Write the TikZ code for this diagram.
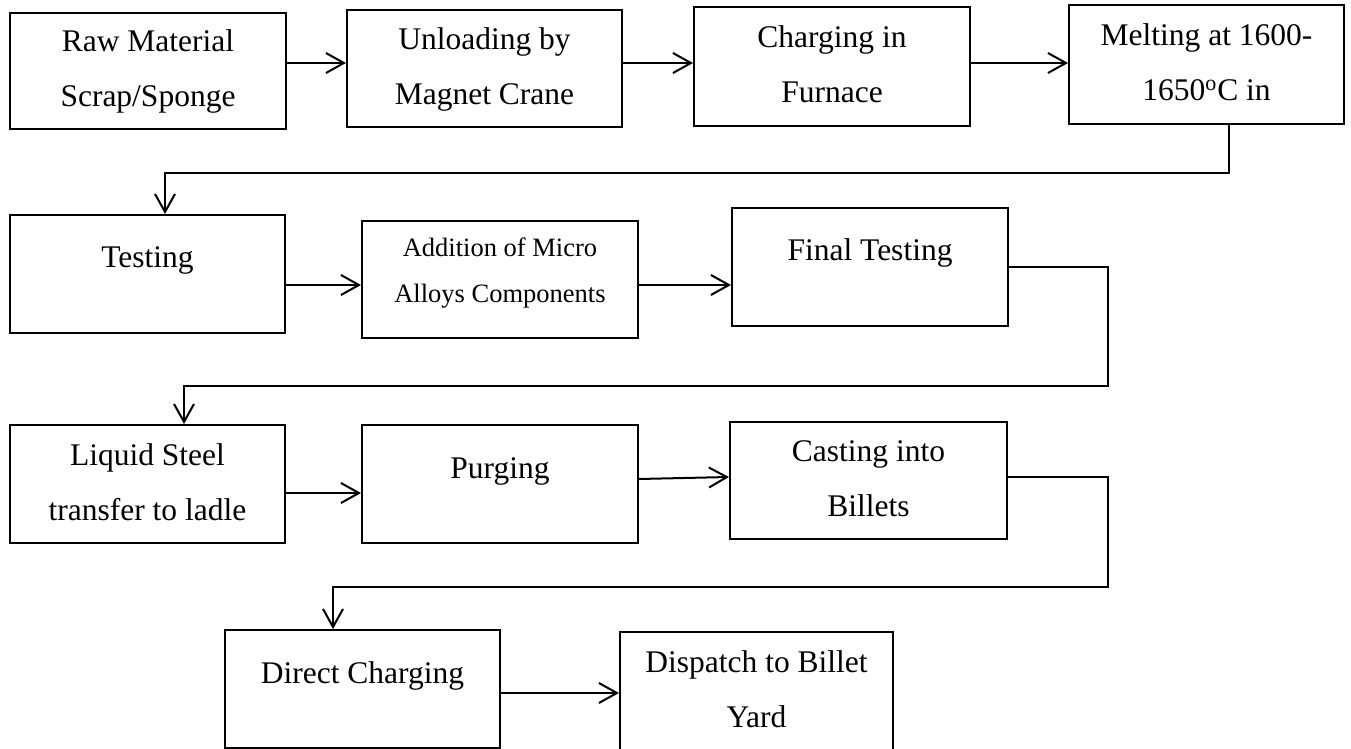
\documentclass[tikz,border=0pt]{standalone}
\usepackage{fontspec}
\setmainfont{Liberation Serif}
\usetikzlibrary{arrows.meta}
% invisible rules that fix where the two text lines sit inside a box
\newcommand\hiline{\rule{0pt}{16pt}}
\newcommand\loline{\rule[-7.5pt]{0pt}{7.5pt}}
\newcommand\hismall{\rule{0pt}{12pt}}
\newcommand\losmall{\rule[-12pt]{0pt}{12pt}}
\begin{document}
\begin{tikzpicture}[x=0.5pt, y=-0.5pt,
  box/.style={draw, line width=1pt, inner sep=0pt, align=center,
    font=\fontsize{15.75}{27.5}\selectfont},
  small/.style={font=\fontsize{13.25}{22.7}\selectfont},
  one/.style={text height=12pt, text depth=18pt},
  wh/.style 2 args={minimum width=#1*0.5pt, minimum height=#2*0.5pt},
  arr/.style={line width=1pt, line join=miter,
    -{Straight Barb[length=9pt, width=10pt]}}]
\useasboundingbox (0,0) rectangle (1351,749);

% process steps
\node[box, wh={276}{116}] (raw)    at (148,71)     {\hiline Raw Material\\ Scrap/Sponge\loline};
\node[box, wh={275}{117}] (unload) at (484.5,68.5) {\hiline Unloading by\\ Magnet Crane\loline};
\node[box, wh={276}{119}] (charge) at (832,66.5)   {\hiline Charging in\\ Furnace\loline};
\node[box, wh={275}{119}] (melt)   at (1206.5,64.5){\hiline Melting at 1600-\\ 1650\textsuperscript{o}C in\loline};

\node[box, one, wh={275}{118}] (test)  at (147.5,274) {Testing};
\node[box, small, wh={276}{117}] (alloy) at (500,279.5) {\hismall Addition of Micro\\ Alloys Components\losmall};
\node[box, one, wh={276}{118}] (final) at (870,267) {Final Testing};

\node[box, wh={275}{118}] (ladle) at (147.5,484) {\hiline Liquid Steel\\ transfer to ladle\loline};
\node[box, one, wh={276}{118}] (purge) at (500,484) {Purging};
\node[box, wh={277}{117}] (cast)  at (868.5,480.5) {\hiline Casting into\\ Billets\loline};

\node[box, one, wh={275}{118}] (direct) at (362.5,689) {Direct Charging};
\node[box, wh={273}{118}] (yard)   at (756.5,691) {\hiline Dispatch to Billet\\ Yard\loline};

% levels and bend points of the connectors
\coordinate (r1) at (0,63);
\coordinate (r2) at (0,285);
\coordinate (r3) at (0,493);
\coordinate (r4) at (0,693);
\coordinate (m1) at (1229,173);
\coordinate (m2) at (165,173);
\coordinate (f1) at (1108,267);
\coordinate (f2) at (1108,386);
\coordinate (f3) at (184,386);
\coordinate (p0) at (0,479);
\coordinate (p1) at (0,477);
\coordinate (c1) at (1108,477);
\coordinate (c2) at (1108,587);
\coordinate (c3) at (333,587);

% first row
\draw[arr] (raw.east |- r1) -- (unload.west |- r1);
\draw[arr] (unload.east |- r1) -- (charge.west |- r1);
\draw[arr] (charge.east |- r1) -- (melt.west |- r1);
\draw[arr] (melt.south -| m1) -- (m1) -- (m2) -- (test.north -| m2);

% second row
\draw[arr] (test.east |- r2) -- (alloy.west |- r2);
\draw[arr] (alloy.east |- r2) -- (final.west |- r2);
\draw[arr] (final.east |- f1) -- (f1) -- (f2) -- (f3) -- (ladle.north -| f3);

% third row
\draw[arr] (ladle.east |- r3) -- (purge.west |- r3);
\draw[arr] (purge.east |- p0) -- (cast.west |- p1);
\draw[arr] (cast.east |- c1) -- (c1) -- (c2) -- (c3) -- (direct.north -| c3);

% last row
\draw[arr] (direct.east |- r4) -- (yard.west |- r4);
\end{tikzpicture}
\end{document}
